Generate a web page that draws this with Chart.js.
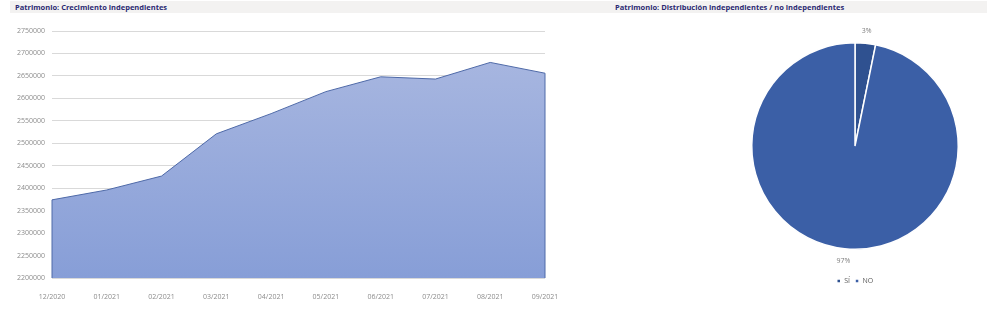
<!DOCTYPE html>
<html>
<head>
<meta charset="utf-8">
<script src="https://cdn.jsdelivr.net/npm/chart.js@4.4.0/dist/chart.umd.min.js"></script>
<style>
  html, body { margin: 0; padding: 0; background: #fff; overflow: hidden; }
  body { width: 987px; height: 313px; position: relative; font-family: "Open Sans", sans-serif; }
  .band { position: absolute; left: 10px; top: 1px; width: 977px; height: 12px; background: #f3f2f1; }
  .title { position: absolute; top: 1px; height: 12px; line-height: 12px; font-size: 7.5px; font-weight: 700; color: #2b2a72; white-space: nowrap; }
  #lineWrap { position: absolute; left: 0; top: 0; width: 600px; height: 313px; }
  #pieWrap { position: absolute; left: 600px; top: 14px; width: 387px; height: 299px; }
</style>
</head>
<body>
<div class="band"></div>
<div class="title" style="left:15px">Patrimonio: Crecimiento independientes</div>
<div class="title" style="left:615px">Patrimonio: Distribución independientes / no independientes</div>
<div id="lineWrap"><canvas id="growthChart"></canvas></div>
<div id="pieWrap"><canvas id="shareChart"></canvas></div>

<script>
// data
const months = ['12/2020', '01/2021', '02/2021', '03/2021', '04/2021', '05/2021', '06/2021', '07/2021', '08/2021', '09/2021'];
const patrimonio = [2374000, 2396000, 2427000, 2521000, 2566000, 2615000, 2648000, 2643000, 2680000, 2656000];
const yTicks = { min: 2200000, max: 2750000, step: 50000 };

const shareLabels = ['SÍ', 'NO'];
const shareValues = [3.2, 96.8];
const shareColors = ['#2f5190', '#3b5fa6'];

const tickFont = { family: 'Open Sans', size: 7 };

// Excel draws the outline down the left and right sides of the area too
const areaEdges = {
  id: 'areaEdges',
  afterDatasetsDraw(chart) {
    const pts = chart.getDatasetMeta(0).data;
    const bottom = chart.scales.y.getPixelForValue(yTicks.min);
    const ctx = chart.ctx;
    ctx.save();
    ctx.strokeStyle = '#4f6aa8';
    ctx.lineWidth = 1;
    [pts[0], pts[pts.length - 1]].forEach(p => {
      ctx.beginPath();
      ctx.moveTo(p.x, p.y);
      ctx.lineTo(p.x, bottom);
      ctx.stroke();
    });
    ctx.restore();
  }
};

new Chart(document.getElementById('growthChart'), {
  type: 'line',
  data: {
    labels: months,
    datasets: [{
      data: patrimonio,
      borderColor: '#4f6aa8',
      borderWidth: 1,
      pointRadius: 0,
      tension: 0,
      fill: 'start',
      backgroundColor: (context) => {
        const area = context.chart.chartArea;
        if (!area) return '#98aadb';
        const g = context.chart.ctx.createLinearGradient(0, area.top, 0, area.bottom);
        g.addColorStop(0, '#abb9e1');
        g.addColorStop(1, '#879ed7');
        return g;
      }
    }]
  },
  options: {
    responsive: true,
    maintainAspectRatio: false,
    animation: false,
    layout: { padding: { left: 0, right: 55, top: 31, bottom: 0 } },
    plugins: { legend: { display: false }, tooltip: { enabled: false } },
    scales: {
      x: {
        offset: false,
        grid: { display: false },
        border: { display: false },
        ticks: { color: '#8c8c8c', font: tickFont, padding: 7, maxRotation: 0, autoSkip: false },
        afterFit: (s) => { s.height = 35; }
      },
      y: {
        min: yTicks.min,
        max: yTicks.max,
        grid: { color: '#d9d9d9', drawTicks: false },
        border: { display: false },
        ticks: { stepSize: yTicks.step, color: '#8c8c8c', font: tickFont, padding: 7, callback: (v) => String(v) },
        afterFit: (s) => { s.width = 52; }
      }
    }
  },
  plugins: [areaEdges]
});

// percentage labels just outside each slice
const sliceLabels = {
  id: 'sliceLabels',
  afterDatasetsDraw(chart) {
    const ctx = chart.ctx;
    const total = shareValues.reduce((a, b) => a + b, 0);
    ctx.save();
    ctx.font = '7px "Open Sans"';
    ctx.fillStyle = '#7f7f7f';
    ctx.textAlign = 'center';
    ctx.textBaseline = 'middle';
    chart.getDatasetMeta(0).data.forEach((arc, i) => {
      const mid = (arc.startAngle + arc.endAngle) / 2;
      const r = arc.outerRadius + 12;
      const txt = Math.round(shareValues[i] / total * 100) + '%';
      ctx.fillText(txt, arc.x + Math.cos(mid) * r, arc.y + Math.sin(mid) * r);
    });
    ctx.restore();
  }
};

new Chart(document.getElementById('shareChart'), {
  type: 'pie',
  data: {
    labels: shareLabels,
    datasets: [{
      data: shareValues,
      backgroundColor: shareColors,
      borderColor: '#ffffff',
      borderWidth: 1.5
    }]
  },
  options: {
    responsive: true,
    maintainAspectRatio: false,
    animation: false,
    layout: { padding: { left: 151, right: 28, top: 5.5, bottom: 18.5 } },
    plugins: {
      tooltip: { enabled: false },
      legend: {
        position: 'bottom',
        labels: {
          usePointStyle: true,
          pointStyle: 'rect',
          boxWidth: 4,
          boxHeight: 4,
          padding: 5,
          color: '#595959',
          font: { family: 'Open Sans', size: 7 }
        }
      }
    }
  },
  plugins: [sliceLabels]
});
</script>
</body>
</html>
